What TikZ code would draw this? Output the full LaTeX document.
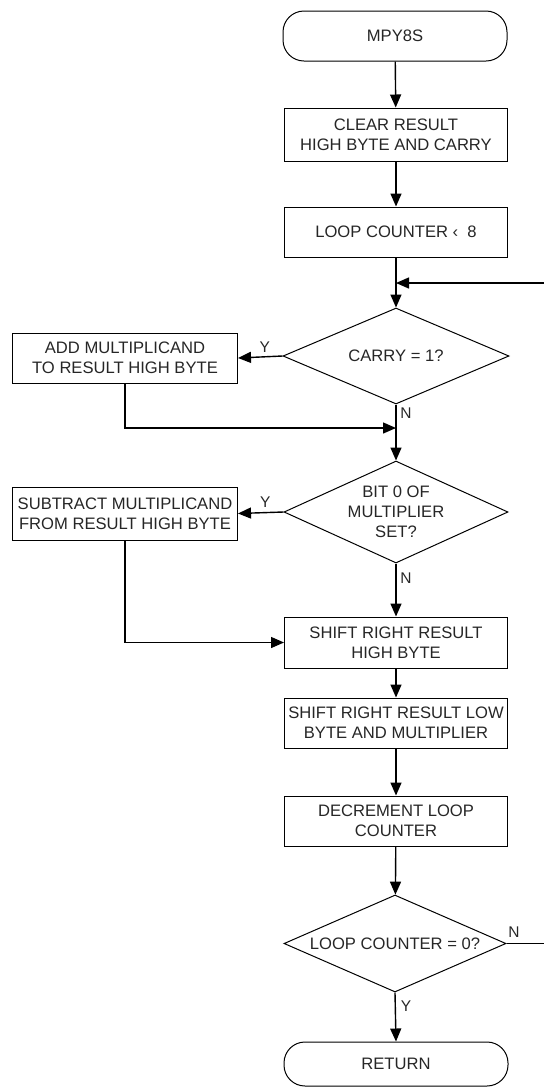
\documentclass[tikz,border=0pt]{standalone}
\usepackage{fontspec}
\setmainfont{Liberation Sans}
\usetikzlibrary{shapes.geometric,arrows.meta}
\begin{document}
\begin{tikzpicture}[x=1pt,y=-1pt,
  font=\fontsize{16.6}{20}\selectfont,
  line width=1.4pt,
  arr/.style={-{Triangle[length=13pt,width=11pt]}},
  procbox/.style={draw,line width=1pt,rectangle,minimum width=223pt,inner sep=1pt,align=center,text=black!85},
  termbox/.style={draw,line width=1pt,rectangle,rounded corners=21pt,minimum width=224pt,align=center,text=black!85},
  decbox/.style={draw,line width=1pt,diamond,inner sep=0pt},
  dtext/.style={align=center,text=black!85,inner sep=0pt},
  lbl/.style={font=\fontsize{15.5}{18}\selectfont,text=black!85,inner sep=0pt}]
\useasboundingbox (0,0) rectangle (544,1088);
\node[termbox,minimum height=50pt] (start) at (395,36) {MPY8S};
\node[procbox,minimum height=53pt] (clear) at (396,134.5) {CLEAR RESULT\\HIGH BYTE AND CARRY};
\node[procbox,minimum height=50pt] (loopc) at (396,232) {LOOP COUNTER ‹\ \ 8};
\coordinate (m1) at (396,283);
\coordinate (rin) at (544,283);
\node[decbox,minimum width=226pt,minimum height=96pt] (carry) at (396,356) {};
\node[dtext] (carryt) at (carry) {CARRY = 1?};
\node[procbox,minimum width=225pt,minimum height=50pt] (add) at (125,358) {ADD MULTIPLICAND\\TO RESULT HIGH BYTE};
\coordinate (m2) at (396,428);
\node[decbox,minimum width=224pt,minimum height=102pt] (bit) at (396,512) {};
\node[dtext] (bitt) at (bit) {BIT 0 OF\\MULTIPLIER\\SET?};
\node[procbox,minimum width=225pt,minimum height=53pt] (sub) at (125,513.5) {SUBTRACT MULTIPLICAND\\FROM RESULT HIGH BYTE};
\node[procbox,minimum height=51pt] (shh) at (396,642.5) {SHIFT RIGHT RESULT\\HIGH BYTE};
\node[procbox,minimum height=50pt] (shl) at (396,723) {SHIFT RIGHT RESULT LOW\\BYTE AND MULTIPLIER};
\node[procbox,minimum height=50pt] (dec) at (396,821) {DECREMENT LOOP\\COUNTER};
\node[decbox,minimum width=222pt,minimum height=97pt] (lc0) at (395,943.5) {};
\node[dtext] (lc0t) at (lc0) {LOOP COUNTER = 0?};
\coordinate (rout) at (544,943.5);
\node[termbox,minimum height=44pt] (ret) at (396,1064) {RETURN};
% connectors
\draw[arr] (start) -- (clear);
\draw[arr] (clear) -- (loopc);
\draw[arr] (loopc) -- (carry);
\draw[arr] (rin) -- (m1);
\draw[arr] (carry.west) -- node[lbl,above=4pt,pos=0.4]{Y} (add.east);
\draw[arr] (add.south) |- (m2);
\draw[arr] (carry.south) -- (bit.north);
\node[lbl] (n1) at (406,413) {N};
\draw[arr] (bit.west) -- node[lbl,above=4pt,pos=0.4]{Y} (sub.east);
\draw[arr] (sub.south) |- (shh.west);
\draw[arr] (bit.south) -- (shh.north);
\node[lbl] (n2) at (406,578) {N};
\draw[arr] (shh) -- (shl);
\draw[arr] (shl) -- (dec);
\draw[arr] (dec) -- (lc0);
\draw (lc0.east) -- (rout);
\node[lbl] (n3) at (514,932) {N};
\draw[arr] (lc0.south) -- (ret.north);
\node[lbl] (y3) at (406,1006) {Y};
\end{tikzpicture}
\end{document}
